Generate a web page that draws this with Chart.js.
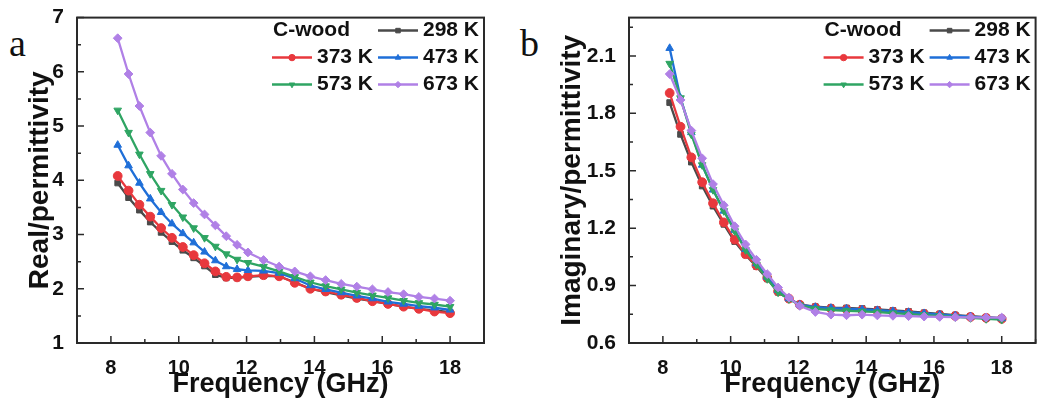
<!DOCTYPE html>
<html>
<head>
<meta charset="utf-8">
<script src="https://cdn.jsdelivr.net/npm/chart.js@4.4.0/dist/chart.umd.min.js"></script>
<style>
  body { margin: 0; background: #fff; width: 1041px; height: 406px; position: relative; overflow: hidden; }
  canvas { position: absolute; top: 0; }
  #chartA { left: 0; }
  #chartB { left: 520px; }
  .tag { position: absolute; top: 21px; font-family: "Liberation Serif", "DejaVu Serif", serif; font-size: 38px; color: #111; }
</style>
</head>
<body>
<div class="tag" style="left:9px">a</div>
<div class="tag" style="left:520px">b</div>
<canvas id="chartA" width="520" height="406"></canvas>
<canvas id="chartB" width="521" height="406"></canvas>
<script>
const freq = [8.2, 8.52, 8.84, 9.16, 9.48, 9.8, 10.12, 10.44, 10.76, 11.08, 11.4, 11.72, 12.04,
  12.5, 12.96, 13.42, 13.88, 14.33, 14.79, 15.25, 15.71, 16.17, 16.63, 17.08, 17.54, 18];

const seriesNames = ['298 K', '373 K', '473 K', '573 K', '673 K'];
const seriesColors = ['#4a4a4a', '#e8383d', '#1f6fd8', '#2fa563', '#b080e6'];
const markerStyles = ['rect', 'circle', 'triangle', 'triangle', 'rectRot'];
const markerRotations = [0, 0, 0, 180, 0];

// a: real part
const real298 = [3.95, 3.68, 3.45, 3.23, 3.04, 2.87, 2.71, 2.57, 2.42, 2.26, 2.20, 2.20, 2.22, 2.24, 2.23, 2.12, 2.00, 1.94, 1.88, 1.82, 1.77, 1.72, 1.67, 1.63, 1.60, 1.57];
const real373 = [4.08, 3.81, 3.55, 3.33, 3.12, 2.94, 2.77, 2.62, 2.47, 2.32, 2.22, 2.21, 2.23, 2.25, 2.23, 2.11, 2.00, 1.95, 1.89, 1.83, 1.77, 1.72, 1.67, 1.63, 1.58, 1.55];
const real473 = [4.65, 4.27, 3.95, 3.66, 3.41, 3.20, 3.02, 2.85, 2.68, 2.52, 2.41, 2.36, 2.34, 2.33, 2.29, 2.19, 2.06, 1.99, 1.93, 1.87, 1.82, 1.76, 1.72, 1.68, 1.65, 1.61];
const real573 = [5.29, 4.88, 4.48, 4.12, 3.81, 3.55, 3.32, 3.12, 2.94, 2.78, 2.64, 2.54, 2.48, 2.41, 2.32, 2.22, 2.12, 2.05, 1.99, 1.93, 1.88, 1.83, 1.78, 1.74, 1.71, 1.67];
const real673 = [6.62, 5.96, 5.37, 4.88, 4.45, 4.12, 3.83, 3.58, 3.37, 3.17, 2.97, 2.81, 2.67, 2.53, 2.41, 2.32, 2.23, 2.16, 2.09, 2.04, 1.99, 1.94, 1.90, 1.85, 1.82, 1.78];

// b: imaginary part
const imag298 = [1.856, 1.69, 1.545, 1.42, 1.315, 1.22, 1.13, 1.06, 1.0, 0.935, 0.865, 0.83, 0.80, 0.79, 0.785, 0.783, 0.78, 0.775, 0.77, 0.765, 0.758, 0.752, 0.746, 0.74, 0.735, 0.73];
const imag373 = [1.906, 1.73, 1.57, 1.44, 1.33, 1.23, 1.14, 1.064, 1.005, 0.94, 0.87, 0.832, 0.80, 0.785, 0.78, 0.776, 0.772, 0.768, 0.763, 0.758, 0.752, 0.746, 0.741, 0.736, 0.731, 0.726];
const imag473 = [2.14, 1.88, 1.70, 1.53, 1.40, 1.29, 1.19, 1.09, 1.015, 0.945, 0.875, 0.832, 0.80, 0.787, 0.782, 0.779, 0.775, 0.771, 0.766, 0.761, 0.755, 0.749, 0.743, 0.738, 0.733, 0.728];
const imag573 = [2.06, 1.88, 1.69, 1.53, 1.40, 1.29, 1.185, 1.086, 1.01, 0.935, 0.865, 0.83, 0.798, 0.778, 0.772, 0.768, 0.765, 0.761, 0.756, 0.751, 0.746, 0.741, 0.736, 0.731, 0.726, 0.722];
const imag673 = [2.005, 1.87, 1.71, 1.565, 1.43, 1.32, 1.21, 1.115, 1.035, 0.96, 0.89, 0.837, 0.794, 0.762, 0.748, 0.745, 0.748, 0.744, 0.742, 0.74, 0.738, 0.736, 0.735, 0.734, 0.733, 0.733];

const freqTicks = [8, 10, 12, 14, 16, 18];
const realTicks = [1, 2, 3, 4, 5, 6, 7];
const imagTicks = [0.6, 0.9, 1.2, 1.5, 1.8, 2.1];

const FONT = '"Liberation Sans", Arial, sans-serif';
const INK = '#111';

// minor ticks sit halfway between the major ones
function halfSteps(ticks, min, max) {
  const step = ticks[1] - ticks[0];
  const out = [];
  for (let i = -1; i < ticks.length; i++) {
    const v = (i < 0 ? ticks[0] - step : ticks[i]) + step / 2;
    if (v >= min - 1e-9 && v <= max + 1e-9) out.push(v);
  }
  return out;
}

function drawMarker(ctx, style, rotation, r, x, y) {
  if (Chart.helpers && Chart.helpers.drawPoint) {
    Chart.helpers.drawPoint(ctx, { pointStyle: style, rotation: rotation, radius: r, borderWidth: 1 }, x, y);
  } else {
    ctx.beginPath(); ctx.arc(x, y, r, 0, Math.PI * 2); ctx.fill();
  }
}

const frameTicks = {
  id: 'frameTicks',
  afterDraw(chart, args, opts) {
    const ctx = chart.ctx;
    const a = chart.chartArea;
    const xs = chart.scales.x, ys = chart.scales.y;
    ctx.save();
    ctx.strokeStyle = '#2a2a2a';
    ctx.lineWidth = 2;
    ctx.strokeRect(a.left, a.top, a.right - a.left, a.bottom - a.top);
    ctx.lineWidth = 1.5;
    ctx.beginPath();
    const tickX = (v, len) => { const p = xs.getPixelForValue(v); ctx.moveTo(p, a.bottom); ctx.lineTo(p, a.bottom - len); };
    const tickY = (v, len) => { const p = ys.getPixelForValue(v); ctx.moveTo(a.left, p); ctx.lineTo(a.left + len, p); };
    opts.xMajor.forEach(v => tickX(v, 7));
    opts.xMinor.forEach(v => tickX(v, 4));
    opts.yMajor.forEach(v => tickY(v, 7));
    opts.yMinor.forEach(v => tickY(v, 4));
    ctx.stroke();
    ctx.restore();
  }
};

const cornerLegend = {
  id: 'cornerLegend',
  afterDatasetsDraw(chart, args, opts) {
    const ctx = chart.ctx;
    const { top, right } = chart.chartArea;
    const ds = chart.data.datasets;
    const cells = [null, 0, 1, 2, 3, 4];
    ctx.save();
    ctx.font = 'bold 21px ' + FONT;
    ctx.textBaseline = 'middle';
    cells.forEach((c, k) => {
      const row = Math.floor(k / 2), col = k % 2;
      const y = top + 13 + row * 27;
      const lineX = right + (col === 0 ? -212 : -106);
      if (c === null) {
        ctx.fillStyle = INK;
        ctx.fillText(opts.title, lineX + 1, y);
        return;
      }
      const d = ds[c];
      ctx.strokeStyle = d.borderColor;
      ctx.lineWidth = 2.5;
      ctx.beginPath(); ctx.moveTo(lineX, y); ctx.lineTo(lineX + 40, y); ctx.stroke();
      ctx.fillStyle = d.borderColor;
      ctx.lineWidth = 1;
      drawMarker(ctx, d.pointStyle, d.pointRotation, 3.2, lineX + 20, y);
      ctx.fillStyle = INK;
      ctx.fillText(d.label, lineX + 45, y);
    });
    ctx.restore();
  }
};

function makeChart(id, values, yTitle, yMin, yMax, yTicks, yFmt, geom) {
  const datasets = values.map((arr, i) => ({
    label: seriesNames[i],
    data: freq.map((f, j) => ({ x: f, y: arr[j] })),
    borderColor: seriesColors[i],
    backgroundColor: seriesColors[i],
    pointStyle: markerStyles[i],
    pointRotation: markerRotations[i],
    pointRadius: markerStyles[i] === 'rect' ? 4 : 4.4,
    pointBorderWidth: 1,
    borderWidth: 2.3,
    tension: 0,
    order: 4 - i
  }));

  return new Chart(document.getElementById(id), {
    type: 'line',
    data: { datasets },
    plugins: [frameTicks, cornerLegend],
    options: {
      responsive: false,
      animation: false,
      devicePixelRatio: 1,
      layout: { padding: { top: geom.top, right: geom.right, left: 0, bottom: 0 } },
      plugins: {
        legend: { display: false },
        tooltip: { enabled: false },
        cornerLegend: { title: 'C-wood' },
        frameTicks: {
          xMajor: freqTicks, xMinor: halfSteps(freqTicks, 7, 19),
          yMajor: yTicks, yMinor: halfSteps(yTicks, yMin, yMax)
        }
      },
      scales: {
        x: {
          type: 'linear', min: 7, max: 19,
          grid: { display: false },
          border: { display: false },
          afterBuildTicks: s => { s.ticks = freqTicks.map(v => ({ value: v })); },
          afterFit: s => { s.height = 63; },
          ticks: { font: { family: FONT, size: 20, weight: 'bold' }, color: INK, padding: 5, maxRotation: 0, autoSkip: false },
          title: { display: true, text: 'Frequency (GHz)', color: INK, font: { family: FONT, size: 27, weight: 'bold' }, padding: { top: 0, bottom: 5 } }
        },
        y: {
          type: 'linear', min: yMin, max: yMax,
          grid: { display: false },
          border: { display: false },
          afterBuildTicks: s => { s.ticks = yTicks.map(v => ({ value: v })); },
          afterFit: s => { s.width = geom.yWidth; },
          ticks: { font: { family: FONT, size: 21, weight: 'bold' }, color: INK, padding: 5, autoSkip: false, callback: yFmt },
          title: { display: true, text: yTitle, color: INK, font: { family: FONT, size: 28, weight: 'bold' }, padding: { top: geom.titlePad, bottom: 0 } }
        }
      }
    }
  });
}

makeChart('chartA', [real298, real373, real473, real573, real673], 'Real/permittivity',
  1, 7, realTicks, v => String(v), { top: 15, right: 36, yWidth: 77, titlePad: 23 });

makeChart('chartB', [imag298, imag373, imag473, imag573, imag673], 'Imaginary/permittivity',
  0.6, 2.3, imagTicks, v => v.toFixed(1), { top: 13, right: 4, yWidth: 109, titlePad: 35 });
</script>
</body>
</html>
